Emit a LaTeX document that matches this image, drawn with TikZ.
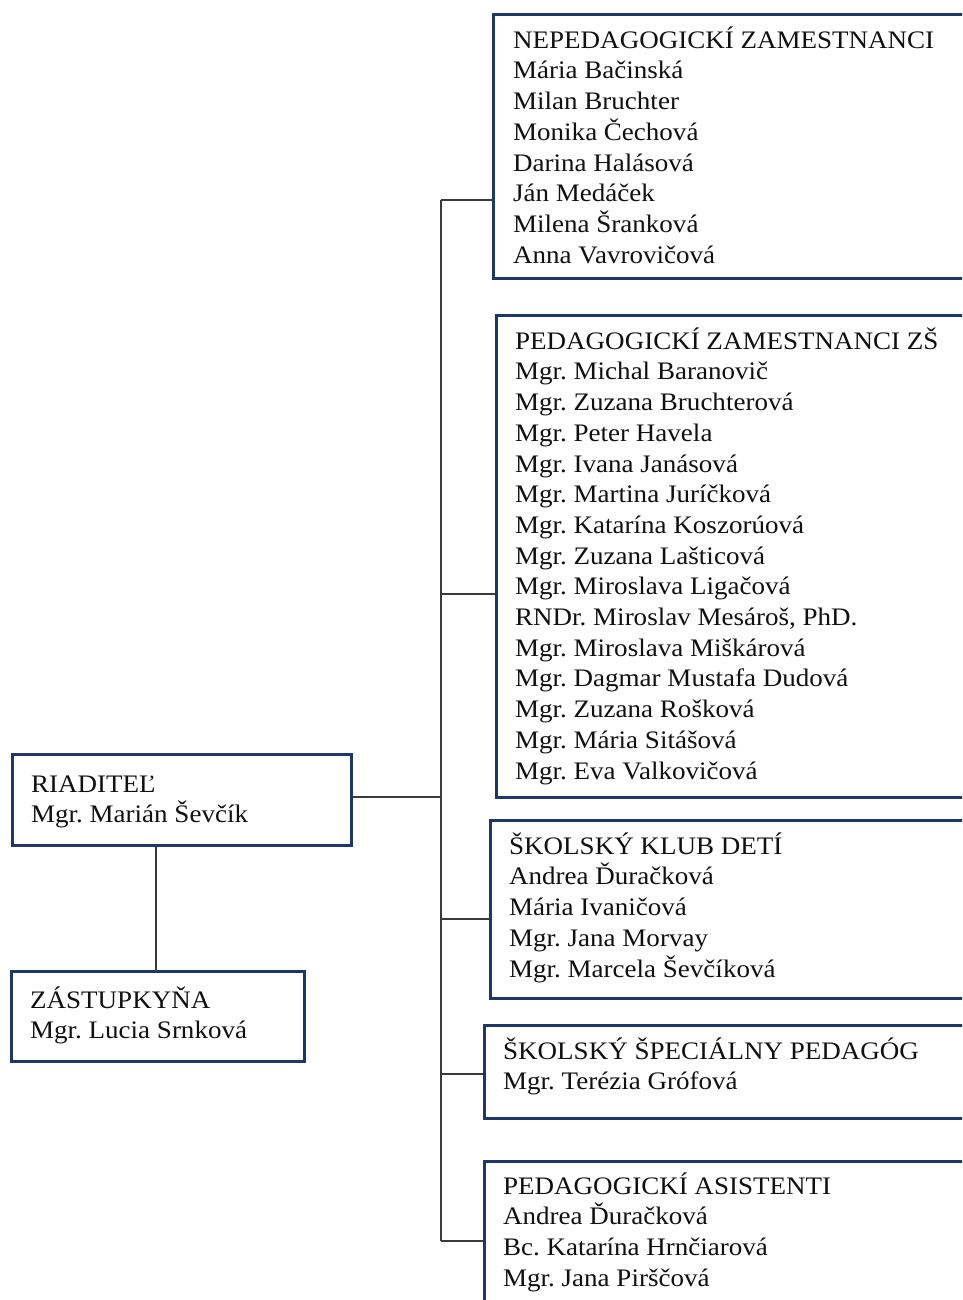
\documentclass[tikz,border=0pt]{standalone}
\usepackage{fontspec}
\setmainfont[FakeStretch=1.072]{Liberation Serif}
\frenchspacing
\definecolor{boxblue}{HTML}{1F3763}
\definecolor{linegray}{HTML}{3A3A3A}
\definecolor{txt}{HTML}{101010}
\newcommand{\firstln}{\rule{0pt}{24pt}}
\begin{document}
\begin{tikzpicture}[x=1pt,y=-1pt,
  orgbox/.style={draw=boxblue,line width=2.8pt,rectangle,anchor=north west,inner sep=0pt},
  orgtext/.style={anchor=north west,align=left,inner sep=0pt,text=txt,font=\fontsize{25.2}{30.7}\selectfont},
  conn/.style={draw=linegray,line width=1.8pt}]
\useasboundingbox (0,0) rectangle (962,1300);
\fill[white] (0,0) rectangle (962,1300);
\clip (0,0) rectangle (962,1300);

% boxes
\node[orgbox,minimum width=500pt,minimum height=264pt] (b1) at (492,13) {};
\node[orgbox,minimum width=500pt,minimum height=482pt] (b2) at (495,314) {};
\node[orgbox,minimum width=500pt,minimum height=178pt] (b3) at (489,819) {};
\node[orgbox,minimum width=500pt,minimum height=93pt] (b4) at (483,1024) {};
\node[orgbox,minimum width=500pt,minimum height=200pt] (b5) at (483,1160) {};
\node[orgbox,minimum width=339pt,minimum height=91pt] (r) at (11,753) {};
\node[orgbox,minimum width=293pt,minimum height=90pt] (z) at (10,970) {};

% texts
\node[orgtext] (t1) at (513,24) {\firstln NEPEDAGOGICKÍ ZAMESTNANCI\\Mária Bačinská\\Milan Bruchter\\Monika Čechová\\Darina Halásová\\Ján Medáček\\Milena Šranková\\Anna Vavrovičová};
\node[orgtext] (t2) at (515,325) {\firstln PEDAGOGICKÍ ZAMESTNANCI ZŠ\\Mgr. Michal Baranovič\\Mgr. Zuzana Bruchterová\\Mgr. Peter Havela\\Mgr. Ivana Janásová\\Mgr. Martina Juríčková\\Mgr. Katarína Koszorúová\\Mgr. Zuzana Lašticová\\Mgr. Miroslava Ligačová\\RNDr. Miroslav Mesároš, PhD.\\Mgr. Miroslava Miškárová\\Mgr. Dagmar Mustafa Dudová\\Mgr. Zuzana Rošková\\Mgr. Mária Sitášová\\Mgr. Eva Valkovičová};
\node[orgtext] (t3) at (509,830) {\firstln ŠKOLSKÝ KLUB DETÍ\\Andrea Ďuračková\\Mária Ivaničová\\Mgr. Jana Morvay\\Mgr. Marcela Ševčíková};
\node[orgtext] (t4) at (503,1035) {\firstln ŠKOLSKÝ ŠPECIÁLNY PEDAGÓG\\Mgr. Terézia Grófová};
\node[orgtext] (t5) at (503,1170) {\firstln PEDAGOGICKÍ ASISTENTI\\Andrea Ďuračková\\Bc. Katarína Hrnčiarová\\Mgr. Jana Pirščová};
\node[orgtext] (tr) at (31,768) {\firstln RIADITEĽ\\Mgr. Marián Ševčík};
\node[orgtext] (tz) at (30,984) {\firstln ZÁSTUPKYŇA\\Mgr. Lucia Srnková};

% trunk junctions
\coordinate (j1) at (441,200);
\coordinate (j2) at (441,594);
\coordinate (jr) at (441,797);
\coordinate (j3) at (441,919);
\coordinate (j4) at (441,1074);
\coordinate (j5) at (441,1241);
\coordinate (rz) at (156,0);

\draw[conn] (j1) -- (j5);
\draw[conn] (j1) -- (j1 -| b1.west);
\draw[conn] (j2) -- (j2 -| b2.west);
\draw[conn] (jr) -- (jr -| r.east);
\draw[conn] (j3) -- (j3 -| b3.west);
\draw[conn] (j4) -- (j4 -| b4.west);
\draw[conn] (j5) -- (j5 -| b5.west);
\draw[conn] (rz |- r.south) -- (rz |- z.north);
\end{tikzpicture}
\end{document}
